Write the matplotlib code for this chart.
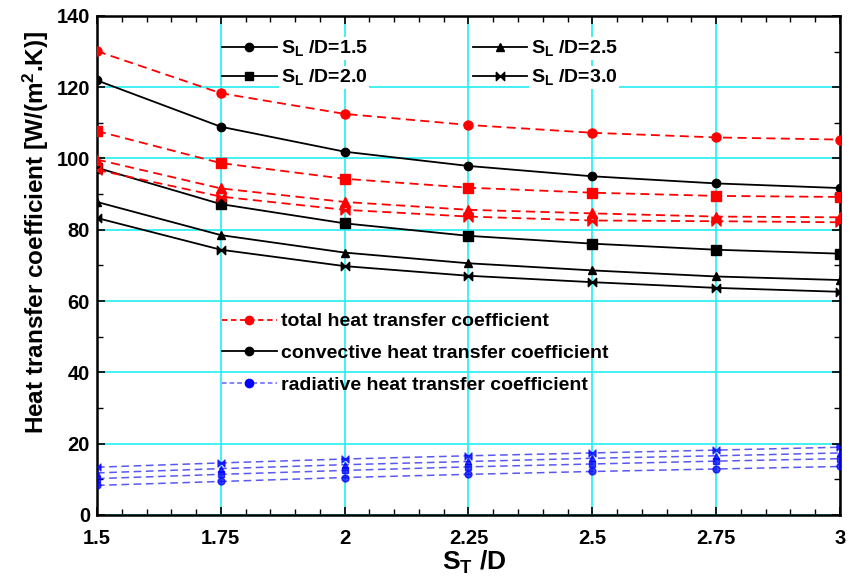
import matplotlib
matplotlib.use("Agg")
import matplotlib.pyplot as plt
from matplotlib.path import Path
from matplotlib.lines import Line2D
from matplotlib.ticker import MultipleLocator

plt.rcParams['font.family'] = ['Liberation Sans', 'DejaVu Sans']
plt.rcParams['font.weight'] = 'bold'
plt.rcParams['mathtext.fontset'] = 'custom'
plt.rcParams['mathtext.rm'] = 'Liberation Sans:bold'
plt.rcParams['mathtext.it'] = 'Liberation Sans:bold'
plt.rcParams['mathtext.bf'] = 'Liberation Sans:bold'

st_d = [1.5, 1.75, 2.0, 2.25, 2.5, 2.75, 3.0]
x_ticklabels = ["1.5", "1.75", "2", "2.25", "2.5", "2.75", "3"]
sl_labels = ["1.5", "2.0", "2.5", "3.0"]

total_15 = [130.1, 118.3, 112.5, 109.4, 107.2, 105.9, 105.3]
total_20 = [107.7, 98.7, 94.3, 91.8, 90.4, 89.5, 89.2]
total_25 = [99.7, 91.6, 87.8, 85.6, 84.6, 83.7, 83.5]
total_30 = [96.8, 89.3, 85.6, 83.7, 82.6, 82.4, 82.1]

conv_15 = [121.9, 108.9, 101.9, 97.9, 95.0, 93.0, 91.7]
conv_20 = [97.4, 87.2, 81.8, 78.3, 76.1, 74.4, 73.3]
conv_25 = [87.8, 78.5, 73.6, 70.6, 68.6, 66.9, 65.9]
conv_30 = [83.3, 74.4, 69.8, 67.1, 65.3, 63.7, 62.6]

rad_15 = [8.3, 9.4, 10.5, 11.4, 12.2, 12.9, 13.6]
rad_20 = [10.2, 11.4, 12.5, 13.5, 14.3, 15.1, 15.8]
rad_25 = [11.8, 13.0, 14.1, 15.0, 15.9, 16.6, 17.4]
rad_30 = [13.4, 14.6, 15.7, 16.6, 17.4, 18.2, 19.0]

bowtie = Path([(-1, -1), (0, 0), (-1, 1), (-1, -1), (1, -1), (0, 0), (1, 1), (1, -1)],
              [Path.MOVETO, Path.LINETO, Path.LINETO, Path.CLOSEPOLY,
               Path.MOVETO, Path.LINETO, Path.LINETO, Path.CLOSEPOLY])
markers = ['o', 's', '^', bowtie]

fig = plt.figure(figsize=(8.56, 5.77), dpi=100)
ax = fig.add_axes([0.1133, 0.1075, 0.868, 0.865])

cyan = '#22EEF0'
totals = [total_15, total_20, total_25, total_30]
convs = [conv_15, conv_20, conv_25, conv_30]
rads = [rad_15, rad_20, rad_25, rad_30]
red_ms = [6.5, 7, 6.5, 6.5]
blk_ms = [6, 6.5, 6, 6]
for i in range(4):
    ax.plot(st_d, totals[i], color='red', ls=(0, (5, 3)), lw=1.3,
            marker=markers[i], ms=red_ms[i], mfc='red', mec='red', zorder=3)
    ax.plot(st_d, convs[i], color='black', ls='-', lw=1.3,
            marker=markers[i], ms=blk_ms[i], mfc='black', mec='black', zorder=3)
    ax.plot(st_d, rads[i], color='#2020F0', ls=(0, (5, 3)), lw=1.1, alpha=0.75,
            marker=markers[i], ms=5, mfc='blue', mec='blue', zorder=3)

ax.set_xlim(1.5, 3.0)
ax.set_ylim(0, 140)
ax.set_xticks(st_d)
ax.set_xticklabels(x_ticklabels)
ax.xaxis.set_minor_locator(MultipleLocator(0.05))
ax.yaxis.set_major_locator(MultipleLocator(20))
ax.yaxis.set_minor_locator(MultipleLocator(10))
ax.tick_params(which='both', direction='in', top=True, right=True)
ax.tick_params(which='major', length=6, width=1.2, labelsize=14.5)
ax.tick_params(axis='x', which='major', pad=10)
ax.tick_params(axis='y', which='major', pad=5)
ax.tick_params(which='minor', length=4, width=1.0)
for lab in ax.get_xticklabels() + ax.get_yticklabels():
    lab.set_fontweight('bold')
for s in ax.spines.values():
    s.set_linewidth(1.8)
ax.set_axisbelow(True)
ax.grid(True, which='major', color=cyan, lw=1.2)

ax.set_xlabel(r"S$_T$ /D", fontsize=19, fontweight='bold')
ax.xaxis.set_label_coords(0.507, -0.068)
ax.set_ylabel(r"Heat transfer coefficient [W/(m$^2$.K)]", fontsize=17.5, fontweight='bold')
ax.yaxis.set_label_coords(-0.062, 0.567)

h1 = [Line2D([], [], color='black', lw=1.3, marker=markers[i], ms=6, mfc='black', mec='black')
      for i in range(4)]
leg1 = ax.legend(h1, [r"S$_L$ /D=" + s for s in sl_labels],
                 ncol=2, loc='upper left', bbox_to_anchor=(0.145, 0.99), frameon=False,
                 handlelength=2.8, handletextpad=0.2, columnspacing=5.4,
                 labelspacing=0.47, prop={'weight': 'bold', 'size': 14})
for t in leg1.get_texts():
    t.set_bbox(dict(facecolor='white', edgecolor='none', pad=1))
ax.add_artist(leg1)

h2 = [Line2D([], [], color='red', ls=(0, (3, 2)), lw=1.3, marker='o', ms=6, mfc='red', mec='red'),
      Line2D([], [], color='black', ls='-', lw=1.3, marker='o', ms=6, mfc='black', mec='black'),
      Line2D([], [], color='#6060FF', ls=(0, (3, 2)), lw=1.1, marker='o', ms=6, mfc='blue', mec='blue')]
leg2 = ax.legend(h2, ["total heat transfer coefficient", "convective heat transfer coefficient",
                      "radiative heat transfer coefficient"],
                 loc='upper left', bbox_to_anchor=(0.145, 0.44), frameon=False,
                 handlelength=2.8, handletextpad=0.2, labelspacing=0.72,
                 prop={'weight': 'bold', 'size': 14})

fig.savefig("out.png", dpi=100)
